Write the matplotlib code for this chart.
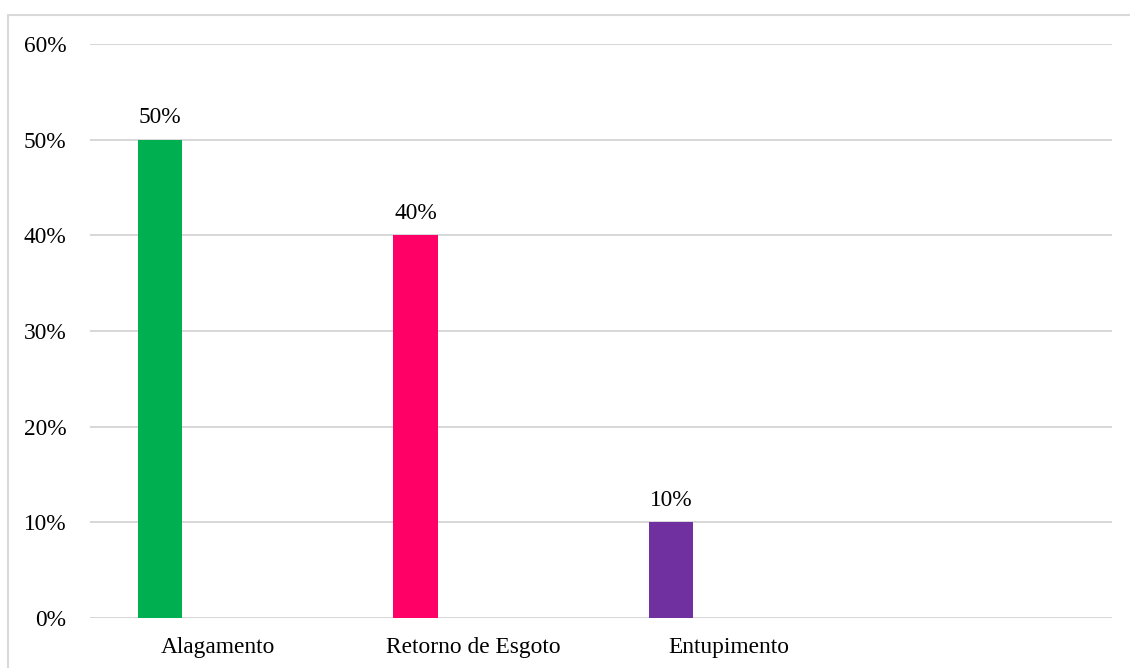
import matplotlib
matplotlib.use("Agg")
import matplotlib.pyplot as plt
from matplotlib.patches import Rectangle
from matplotlib.ticker import FuncFormatter

# Problem categories and their share of responses
categories = ["Alagamento", "Retorno de Esgoto", "Entupimento"]
values = [0.50, 0.40, 0.10]
colors = ["#00B050", "#FF0066", "#7030A0"]
n_slots = 4  # category axis keeps one empty slot on the right

plt.rcParams["font.family"] = ["Liberation Serif", "DejaVu Serif"]
FS = 16.8

fig = plt.figure(figsize=(11.30, 6.68), dpi=100)
ax = fig.add_axes([90 / 1130, 1 - 618 / 668, (1112 - 90) / 1130, (618 - 44) / 668])

# Light outer frame of the chart area
fig.patches.append(Rectangle((7.5 / 1130, -0.02), 1.05, 1 - 15 / 668 + 0.02,
                             transform=fig.transFigure, fill=False,
                             edgecolor="#d9d9d9", linewidth=1.5, zorder=0))

bar_width = 0.176
offset = -0.226
xs = [i + offset for i in range(len(categories))]
bars = ax.bar(xs, values, width=bar_width, color=colors, zorder=3)

for b, v in zip(bars, values):
    ax.annotate(f"{v:.0%}", (b.get_x() + b.get_width() / 2, v),
                xytext=(0, 8.5), textcoords="offset points",
                ha="center", va="bottom", fontsize=FS, color="#000000")

ax.set_xlim(-0.5, n_slots - 0.5)
ax.set_ylim(0, 0.6)
ax.set_yticks([0, 0.1, 0.2, 0.3, 0.4, 0.5, 0.6])
ax.yaxis.set_major_formatter(FuncFormatter(lambda y, _: f"{y:.0%}"))
ax.set_xticks(range(len(categories)))
ax.set_xticklabels(categories)

ax.tick_params(axis="both", length=0, labelsize=FS, colors="#000000")
ax.tick_params(axis="y", pad=17)
ax.tick_params(axis="x", pad=14)

ax.grid(axis="y", color="#d4d4d4", linewidth=1.3, zorder=0)
ax.set_axisbelow(True)
for s in ax.spines.values():
    s.set_visible(False)

fig.savefig("out.png", dpi=100, facecolor="white")
